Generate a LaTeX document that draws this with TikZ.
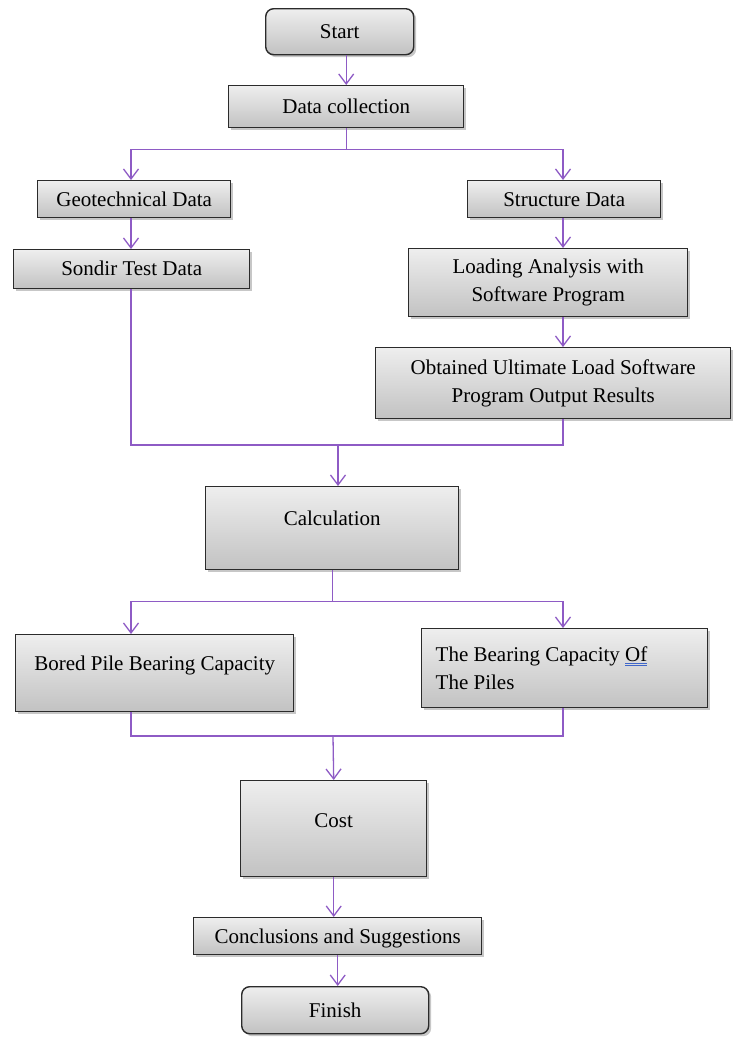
\documentclass[tikz,border=0pt]{standalone}
\usepackage{fontspec}
\setmainfont{Liberation Serif}
\usepackage{tikz}
\usetikzlibrary{arrows.meta,shadows}
\definecolor{edge}{HTML}{2B2B2B}
\definecolor{boxtop}{HTML}{EEEEEE}
\definecolor{boxbot}{HTML}{C2C2C2}
\definecolor{conn}{HTML}{8E5BC5}
\definecolor{linkblue}{HTML}{3F66C9}
\tikzset{
  box/.style  = {draw=edge, line width=1.4pt, top color=boxtop, bottom color=boxbot,
                 inner sep=0pt, anchor=north west,
                 drop shadow={shadow xshift=2.5pt, shadow yshift=-2.5pt, fill=black, opacity=0.22}},
  term/.style = {box, rounded corners=8pt},
  link/.style = {draw=conn, line width=1.3pt},
  flow/.style = {link, -{Straight Barb[length=10pt,width=15pt,line width=1.3pt]}},
}

\begin{document}
\begin{tikzpicture}[x=1pt,y=-1pt,font=\fontsize{21}{28}\selectfont]
    \useasboundingbox (0,0) rectangle (737,1037);
    \node[term, minimum width=148pt, text height=30pt, text depth=16pt] (start) at (265,8) {Start};
    \node[box, minimum width=235pt, text height=28pt, text depth=14pt] (collect) at (228,85) {Data collection};
    \node[box, minimum width=193pt, text height=26pt, text depth=11pt] (geo) at (37,180) {Geotechnical Data};
    \node[box, minimum width=193pt, text height=26pt, text depth=11pt] (struct) at (467,180) {Structure Data};
    \node[box, minimum width=236pt, text height=26pt, text depth=13pt] (sondir) at (13,249) {Sondir Test Data};
    \node[box, minimum width=279pt, minimum height=68pt, align=center] (loading) at (408,248)
      {Loading Analysis with\\Software Program};
    \node[box, minimum width=355pt, minimum height=71pt, align=center] (obtained) at (375,347)
      {Obtained Ultimate Load Software\\Program Output Results};
    \node[box, minimum width=253pt, text height=39pt, text depth=44pt] (calc) at (205,486) {Calculation};
    \node[box, minimum width=278pt, text height=36pt, text depth=41pt] (bored) at (15,634) {Bored Pile Bearing Capacity};
    \node[box, minimum width=286pt, minimum height=79pt, inner xsep=14pt, text width=258pt, align=flush left] (bearing) at (421,628)
      {The Bearing Capacity {\color{linkblue}\underline{\underline{\color{black}Of}}}\\The Piles};
    \node[box, minimum width=186pt, text height=47pt, text depth=49pt] (cost) at (240,780) {Cost};
    \node[box, minimum width=288pt, text height=26pt, text depth=11pt] (concl) at (193,917) {Conclusions and Suggestions};
    \node[term, minimum width=187pt, text height=31pt, text depth=16pt] (finish) at (241,986) {Finish};
    \coordinate (lcol) at (131,0);
    \coordinate (rcol) at (563,0);
    \coordinate (join1) at (338,445);
    \coordinate (join2) at (333,736);
    \draw[flow] (collect.north |- start.south) -- (collect.north);
    \draw[link] (collect.south) -- ++(0,21) coordinate (split1);
    \draw[flow] (split1) -| (lcol |- geo.north);
    \draw[flow] (split1) -| (rcol |- struct.north);
    \draw[flow] (lcol |- geo.south) -- (lcol |- sondir.north);
    \draw[flow] (rcol |- struct.south) -- (rcol |- loading.north);
    \draw[flow] (rcol |- loading.south) -- (rcol |- obtained.north);
    \draw[link] (lcol |- sondir.south) |- (join1) -| (rcol |- obtained.south);
    \draw[flow] (join1) -- (join1 |- calc.north);
    \draw[link] (calc.south) -- ++(0,31) coordinate (split2);
    \draw[flow] (split2) -| (lcol |- bored.north);
    \draw[flow] (split2) -| (rcol |- bearing.north);
    \draw[link] (lcol |- bored.south) |- (join2) -| (rcol |- bearing.south);
    \draw[flow] (join2) -- (cost.north);
    \draw[flow] (cost.south) -- (cost.south |- concl.north);
    \draw[flow] (concl.south) -- (concl.south |- finish.north);
\end{tikzpicture}
\end{document}
